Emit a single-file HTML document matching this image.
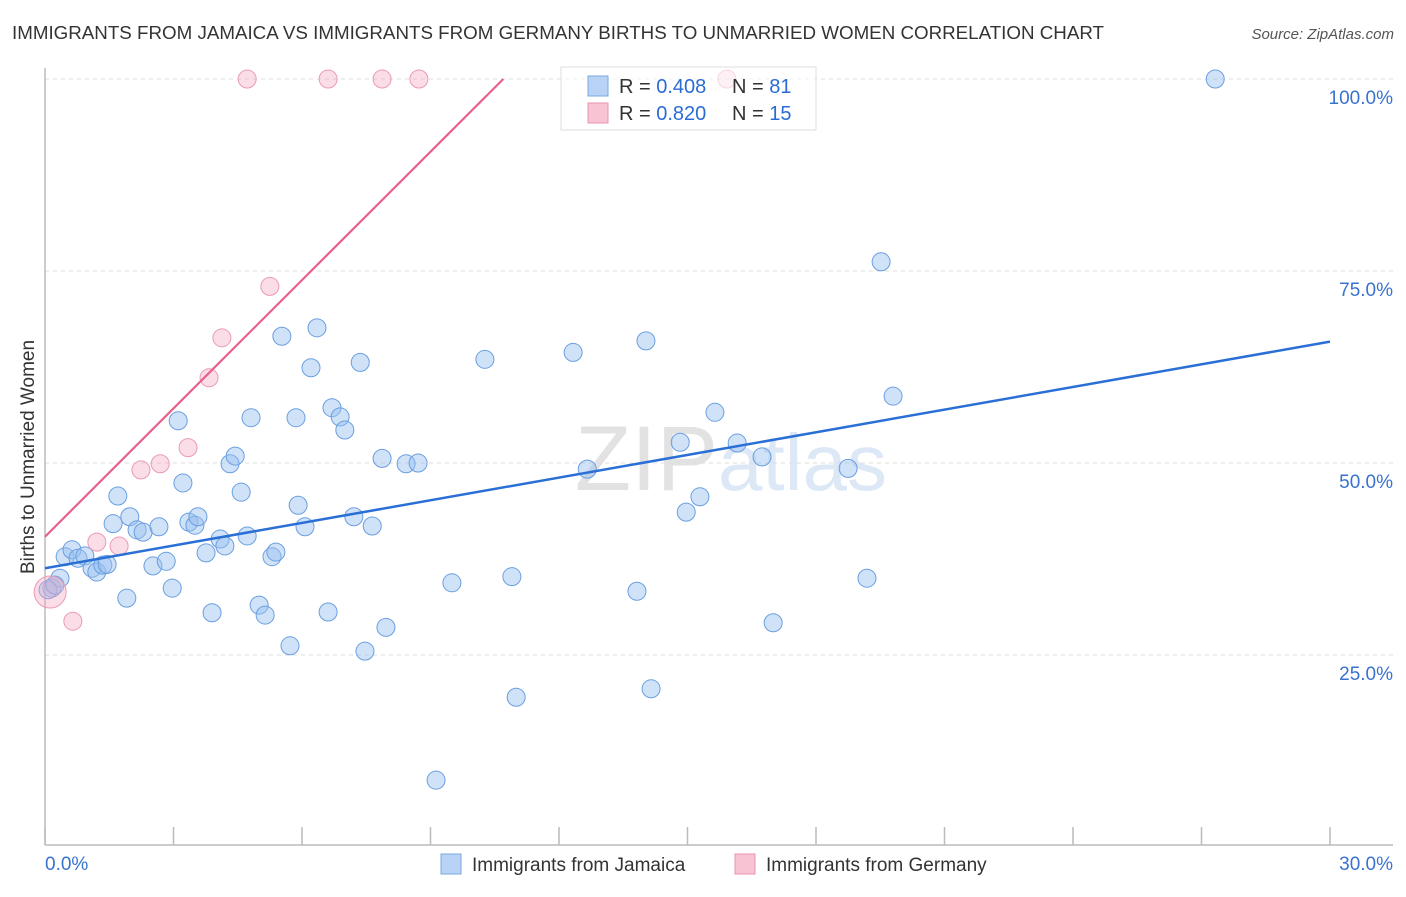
<!DOCTYPE html>
<html><head><meta charset="utf-8"><style>
body{margin:0;background:#fff;font-family:"Liberation Sans",sans-serif}
svg text{font-family:"Liberation Sans",sans-serif}
</style></head><body>
<svg width="1406" height="892">
<text x="12" y="39" font-size="18" fill="#333" textLength="1092" lengthAdjust="spacingAndGlyphs">IMMIGRANTS FROM JAMAICA VS IMMIGRANTS FROM GERMANY BIRTHS TO UNMARRIED WOMEN CORRELATION CHART</text>
<text x="1394" y="39" font-size="15" fill="#555" text-anchor="end" font-style="italic">Source: ZipAtlas.com</text>
<text x="718" y="490" font-size="92" fill="#e2e2e2" text-anchor="end" font-family="Liberation Serif">ZIP</text>
<text x="718" y="490" font-size="80" fill="#dce8f6">atlas</text>
<g id="grid"></g><g id="axes"></g><g id="pts"></g><g id="lines"></g>
<text transform="translate(34,457) rotate(-90)" font-size="19" fill="#333" text-anchor="middle">Births to Unmarried Women</text>
<g>
<rect x="561" y="67" width="255" height="63" fill="rgba(255,255,255,0.6)" stroke="#ddd"/>
<rect x="588" y="76" width="20" height="20" fill="#b8d3f5" stroke="#7aa8e0"/>
<rect x="588" y="103" width="20" height="20" fill="#f8c4d3" stroke="#e894ae"/>
<text x="619" y="93" font-size="20" fill="#333">R = <tspan fill="#2b6cd4">0.408</tspan></text>
<text x="732" y="93" font-size="20" fill="#333">N = <tspan fill="#2b6cd4">81</tspan></text>
<text x="619" y="120" font-size="20" fill="#333">R = <tspan fill="#2b6cd4">0.820</tspan></text>
<text x="732" y="120" font-size="20" fill="#333">N = <tspan fill="#2b6cd4">15</tspan></text>
</g>
<g>
<rect x="441" y="854" width="20" height="20" fill="#b8d3f5" stroke="#7aa8e0"/>
<text x="472" y="871" font-size="19" fill="#333">Immigrants from Jamaica</text>
<rect x="735" y="854" width="20" height="20" fill="#f8c4d3" stroke="#e894ae"/>
<text x="766" y="871" font-size="19" fill="#333">Immigrants from Germany</text>
</g>
</svg>
<script>
const yTicks=[25,50,75,100];
const yTickLabels=["25.0%","50.0%","75.0%","100.0%"];
const xTickVals=[0,3,6,9,12,15,18,21,24,27,30];
const blueX=[0.16,0.35,0.47,0.63,0.77,0.93,1.10,1.21,1.35,1.45,1.59,1.70,1.91,1.98,2.15,2.29,2.52,2.66,2.83,2.97,3.11,3.22,3.36,3.50,3.57,3.76,3.90,4.09,4.20,4.32,4.44,4.58,4.72,4.81,5.00,5.14,5.30,5.39,5.53,5.72,5.86,5.91,6.07,6.21,6.35,6.61,6.70,6.89,7.00,7.21,7.36,7.47,7.64,7.87,7.96,8.43,8.71,9.13,9.50,10.27,10.90,11.00,12.33,12.66,13.82,14.03,14.15,14.83,14.97,15.29,15.64,16.16,16.74,17.00,18.75,19.19,19.52,19.80,27.32,0.07,0.23];
const blueY=[33.7,35.0,37.8,38.7,37.6,37.9,36.3,35.8,36.7,36.8,42.1,45.7,32.4,43.0,41.3,41.0,36.6,41.7,37.2,33.7,55.5,47.4,42.3,41.9,43.0,38.3,30.5,40.1,39.2,49.9,50.9,46.2,40.5,55.9,31.5,30.2,37.8,38.4,66.5,26.2,55.9,44.5,41.7,62.4,67.6,30.6,57.2,56.0,54.3,43.0,63.1,25.5,41.8,50.6,28.6,49.9,50.0,8.7,34.4,63.5,35.2,19.5,64.4,49.2,33.3,65.9,20.6,52.7,43.6,45.6,56.6,52.6,50.8,29.2,49.3,35.0,76.2,58.7,100,33.5,34.1];
const pinkX=[4.72,6.61,7.87,8.73,15.92,5.25,4.13,3.83,3.34,2.69,2.24,1.21,1.73,0.65,0.12];
const pinkY=[100,100,100,100,100,73.0,66.3,61.1,52.0,49.9,49.1,39.7,39.2,29.4,33.2];
const pinkR=[9,9,9,9,9,9,9,9,9,9,9,9,9,9,16];
const blueTrend=[36.3,65.8];
const pinkTrend=[40.4,5.57];
const X=v=>45+v/30*1285, Y=v=>847-v/100*768;
const NS="http://www.w3.org/2000/svg";
function mk(t,a,p){const e=document.createElementNS(NS,t);for(const k in a)e.setAttribute(k,a[k]);p.appendChild(e);return e;}
const g=document.getElementById('grid'),ax=document.getElementById('axes'),pts=document.getElementById('pts'),ln=document.getElementById('lines');
yTicks.forEach((v,i)=>{
 const l=mk('line',{x1:45,x2:1393,y1:Y(v),y2:Y(v),stroke:'#ddd','stroke-dasharray':'4,4'},g);
 
 
 const t=mk('text',{x:1393,y:Y(v)+25,'font-size':19,fill:'#3a72d0','text-anchor':'end'},g);
 t.textContent=yTickLabels[i];
 
 
});
const a1=mk('line',{x1:45,x2:45,y1:68,y2:845,stroke:'#bbb','stroke-width':1.5},ax);


const a2=mk('line',{x1:45,x2:1393,y1:845,y2:845,stroke:'#bbb','stroke-width':1.5},ax);


xTickVals.forEach(v=>{
 const t=mk('line',{x1:X(v),x2:X(v),y1:827,y2:845,stroke:'#bbb','stroke-width':1.5},ax);
 
 
});
[[0,"0.0%",'start',45],[30,"30.0%",'end',1393]].forEach(d=>{
 const t=mk('text',{x:d[3],y:870,'font-size':19,fill:'#3a72d0','text-anchor':d[2]},ax);
 t.textContent=d[1];
 
 
});
blueX.forEach((x,i)=>{
 const c=mk('circle',{cx:X(x),cy:Y(blueY[i]),r:9,fill:'rgba(150,190,240,0.45)',stroke:'#6a9fe0','stroke-width':1},pts);
 
 
});
pinkX.forEach((x,i)=>{
 const c=mk('circle',{cx:X(x),cy:Y(pinkY[i]),r:pinkR[i],fill:'rgba(245,170,195,0.4)',stroke:'#ea9bb5','stroke-width':1},pts);
 
 
});
const bl=mk('line',{x1:X(0),y1:Y(blueTrend[0]),x2:X(30),y2:Y(blueTrend[1]),stroke:'#2a6fd6','stroke-width':2.5},ln);


const xe=(100-pinkTrend[0])/pinkTrend[1];
const pl=mk('line',{x1:X(0),y1:Y(pinkTrend[0]),x2:X(xe),y2:Y(100),stroke:'#e8608a','stroke-width':2.2},ln);


</script>
</body></html>
